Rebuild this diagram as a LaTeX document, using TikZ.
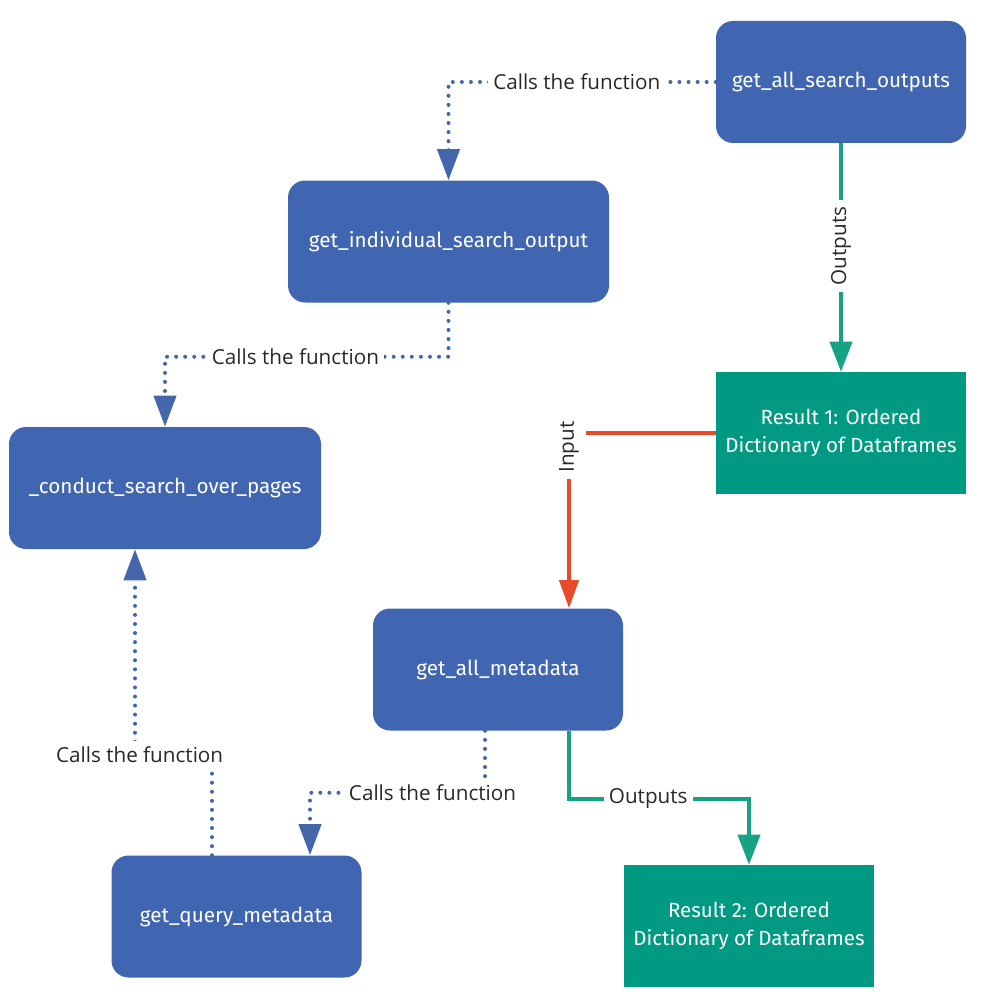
\documentclass[tikz,border=0pt]{standalone}
\usepackage{fontspec}
\setmainfont{Open Sans}
\newfontfamily\boxfont{Fira Sans}
\usetikzlibrary{arrows.meta,calc}
\definecolor{boxblue}{RGB}{65,102,177}
\definecolor{boxteal}{RGB}{0,153,130}
\definecolor{lineteal}{RGB}{22,163,133}
\definecolor{linered}{RGB}{232,74,42}
\definecolor{dotblue}{RGB}{68,102,170}
\definecolor{txtgray}{RGB}{40,40,40}
\tikzset{
  fnbox/.style={fill=boxblue, rounded corners=17*0.75pt, minimum width=250*0.75pt, minimum height=122*0.75pt, inner sep=0pt, text=white, font=\boxfont\fontsize{15.5}{18}\selectfont, align=center},
  resbox/.style={fill=boxteal, minimum width=250*0.75pt, minimum height=122*0.75pt, inner sep=0pt, text=white, font=\boxfont\fontsize{15.4}{21.5}\selectfont, align=center},
  callline/.style={draw=dotblue, line width=4*0.75pt, line cap=round, dash pattern=on 0pt off 6.8pt, -{Triangle[length=31*0.75pt, width=22*0.75pt]}},
  outline/.style={draw=lineteal, line width=4*0.75pt, -{Triangle[length=30*0.75pt, width=22*0.75pt]}},
  inline/.style={draw=linered, line width=4*0.75pt, -{Triangle[length=28*0.75pt, width=19*0.75pt]}},
  lbl/.style={fill=white, text=txtgray, font=\fontsize{15.5}{18}\selectfont, inner sep=4pt},
}
\begin{document}
\begin{tikzpicture}[x=0.75pt, y=-0.75pt]
\useasboundingbox (0,0) rectangle (997,1002);
\fill[white] (0,0) rectangle (997,1002);
% boxes
\node[fnbox] (n1) at (841,82) {get\_all\_search\_outputs};
\node[fnbox, minimum width=321*0.75pt] (n2) at (448.5,241.5) {get\_individual\_search\_output};
\node[fnbox, minimum width=312*0.75pt] (n3) at (165,488) {\_conduct\_search\_over\_pages};
\node[resbox] (r1) at (841,433) {Result 1: Ordered\\Dictionary of Dataframes};
\node[fnbox] (n4) at (498,669.5) {get\_all\_metadata};
\node[fnbox] (n5) at (236.5,916.5) {get\_query\_metadata};
\node[resbox] (r2) at (749,926) {Result 2: Ordered\\Dictionary of Dataframes};
% connectors
\path[callline] (n1.west) -| (n2.north)
  node[lbl, pos=0.26] {Calls the function};
\path[callline] (n2.south) -- ++(0,54) -| (n3.north)
  node[lbl, pos=0.27] {Calls the function};
\path[outline] (n1.south) -- (r1.north)
  node[lbl, pos=0.45, rotate=90, inner sep=5pt] {Outputs};
\coordinate (n4in) at ($(n4.north)+(71,0)$);
\path[inline] (r1.west) -| (n4in)
  node[lbl, pos=0.54, rotate=90, inner sep=5pt] {Input};
\coordinate (n4a) at ($(n4.south)+(-13,0)$);
\coordinate (n5in) at ($(n5.north)+(73.5,0)$);
\path[callline] (n4a) -- ++(0,62) -| (n5in)
  node[lbl, pos=0.15] {Calls the function};
\coordinate (n4b) at ($(n4.south)+(71,0)$);
\path[outline] (n4b) -- ++(0,68) -| (r2.north)
  node[lbl, pos=0.22] {Outputs};
\coordinate (n5a) at ($(n5.north)+(-24.5,0)$);
\coordinate (n3in) at ($(n3.south)+(-30,0)$);
\path[callline] (n5a) -- ++(0,-101) -| (n3in)
  node[lbl, pos=0.47] {Calls the function};
\end{tikzpicture}
\end{document}
